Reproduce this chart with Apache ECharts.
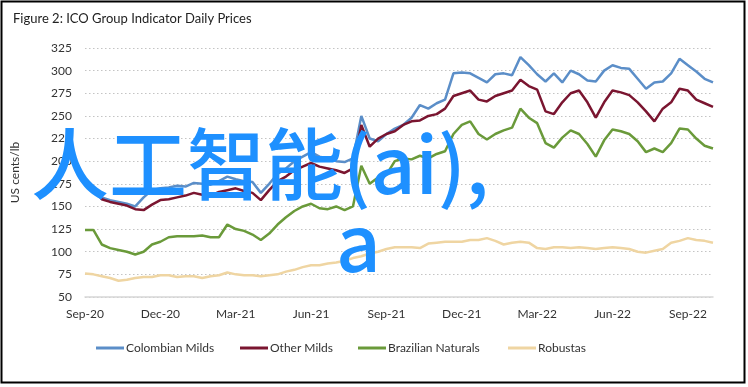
<!DOCTYPE html>
<html>
<head>
<meta charset="utf-8">
<script src="https://cdn.jsdelivr.net/npm/echarts@6/dist/echarts.min.js"></script>
<style>
html,body{margin:0;padding:0;background:#fff;}
#c{width:748px;height:387px;}
</style>
</head>
<body>
<div id="c"></div>
<script>
// x positions: months since 1 Sep 2020, one point per ~10 days
const monthPos = Array.from({length: 76}, (_, i) => i / 3);
const tickLabels = ['Sep-20','Dec-20','Mar-21','Jun-21','Sep-21','Dec-21','Mar-22','Jun-22','Sep-22'];
const seriesNames = ['Colombian Milds','Other Milds','Brazilian Naturals','Robustas'];

const colombianMilds = [179,172,160,157,155,153,150,160,168,170,171,173,172,176,175,174,178,183,180,178,
  177,165,175,186,192,200,205,210,205,203,200,199,203,250,225,222,230,236,240,248,
  262,258,264,268,297,298,297,292,287,296,297,295,315,306,296,288,297,287,300,296,
  289,288,300,306,303,302,291,280,287,288,297,313,306,299,291,287];
const otherMilds = [177,170,158,155,153,151,147,146,152,157,158,160,162,165,163,162,166,168,170,167,
  165,157,168,178,183,190,194,198,194,192,190,187,192,240,216,225,230,233,240,244,
  245,250,252,258,272,275,278,268,266,272,275,278,290,283,279,255,252,265,275,278,
  265,248,265,278,276,273,265,255,244,258,265,280,278,268,264,260];
const brazilianNaturals = [124,124,108,104,102,100,97,100,108,111,116,117,117,117,118,116,116,130,125,123,
  119,113,120,130,138,145,150,153,148,147,150,146,150,195,175,182,185,200,203,202,
  206,203,208,211,230,240,244,230,224,230,234,237,258,248,242,220,215,226,234,230,
  219,205,223,235,233,230,222,210,214,210,220,236,235,225,217,214];
const robustas = [76,75,73,71,68,69,71,72,72,74,74,72,73,73,71,73,74,77,75,74,
  74,73,74,75,78,80,83,85,85,87,88,90,93,95,98,100,103,105,105,105,
  104,109,110,111,111,111,113,113,115,112,108,110,111,110,104,103,105,105,104,105,
  104,103,104,105,104,103,100,99,101,103,110,112,115,113,112,110];

const colors = ['#5b8ec8','#7a1530','#6a9a3a','#efd5a2'];
const allValues = [colombianMilds, otherMilds, brazilianNaturals, robustas];
const FONT = 'Lato';

const chart = echarts.init(document.getElementById('c'), null, {renderer: 'canvas'});
const legendLefts = [91, 235, 353, 503];

chart.setOption({
  animation: false,
  backgroundColor: '#fff',
  textStyle: {fontFamily: FONT},
  title: {
    text: 'Figure 2: ICO Group Indicator Daily Prices',
    left: 8, top: 7,
    textStyle: {fontFamily: FONT, fontSize: 13, fontWeight: 'normal', color: '#222'}
  },
  legend: seriesNames.map((n, i) => ({
    data: [n], left: legendLefts[i], top: 337,
    icon: 'rect', itemWidth: 28, itemHeight: 3,
    textStyle: {fontFamily: FONT, fontSize: 12, color: '#333', padding: [0,0,0,-3]}
  })),
  grid: {left: 85, right: 35, top: 48, bottom: 90, containLabel: false},
  xAxis: {
    type: 'value', min: 0, max: 25, interval: 3,
    axisLine: {show: true, lineStyle: {color: '#d6d6d6', width: 1.5}},
    axisTick: {show: false},
    splitLine: {show: false},
    axisLabel: {
      margin: 11, fontFamily: FONT, fontSize: 12, color: '#333',
      formatter: v => (v % 3 === 0 && tickLabels[v / 3]) ? tickLabels[v / 3] : ''
    }
  },
  yAxis: {
    type: 'value', min: 50, max: 325, interval: 25,
    name: 'US cents/lb', nameLocation: 'middle', nameGap: 64,
    nameTextStyle: {fontFamily: FONT, fontSize: 12, color: '#333'},
    axisLine: {show: false}, axisTick: {show: false},
    axisLabel: {margin: 13, fontFamily: FONT, fontSize: 12, color: '#333'},
    splitLine: {show: true, lineStyle: {color: '#c4c4c4', width: 1.2, type: [1.5, 2.5]}}
  },
  series: seriesNames.map((n, i) => ({
    name: n, type: 'line', showSymbol: false, symbol: 'none',
    lineStyle: {width: 2.5, color: colors[i]}, itemStyle: {color: colors[i]},
    data: monthPos.map((m, k) => [m, allValues[i][k]])
  })),
  graphic: [
    {type: 'rect', z: 100, shape: {x: 1.5, y: 1.5, width: 743, height: 381},
     style: {fill: 'none', stroke: '#000', lineWidth: 2}},
    {type: 'text', z: 100, left: 31, top: 125,
     style: {text: '人工智能(ai),', fill: '#1e90ff', font: '500 78px "Noto Sans CJK SC"'}},
    {type: 'text', z: 100, left: 336, top: 203,
     style: {text: 'a', fill: '#1e90ff', font: '500 78px "Noto Sans CJK SC"'}}
  ]
});
</script>
</body>
</html>
